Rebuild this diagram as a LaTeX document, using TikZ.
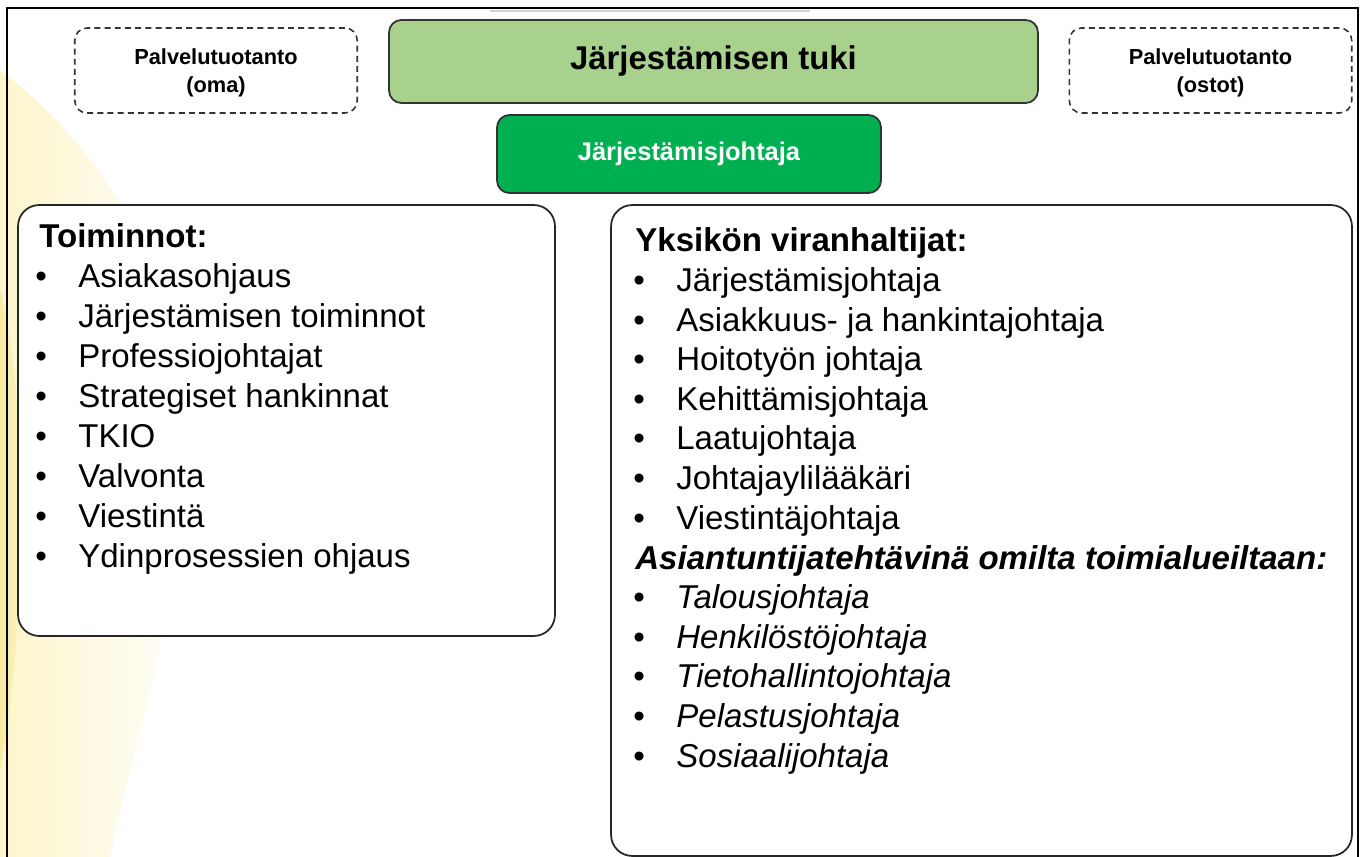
\documentclass[tikz,border=0pt]{standalone}
\usepackage{fontspec}
\setmainfont{Liberation Sans}
\usetikzlibrary{positioning}
\definecolor{tukigreen}{HTML}{A9D18E}
\definecolor{johtogreen}{HTML}{00B050}
\definecolor{edgegray}{HTML}{333333}
\definecolor{glowpale}{HTML}{FDF5CC}
\definecolor{glowdeep}{HTML}{F6EBA0}
\tikzset{
    top box/.style={rectangle, rounded corners=7pt, draw=edgegray, line width=1pt, align=center},
    service box/.style={rectangle, rounded corners=7pt, draw=edgegray, line width=0.9pt, dash pattern=on 3.4pt off 2.4pt, minimum width=5.65cm, minimum height=1.7cm},
    service text/.style={align=center, inner sep=0pt, font=\fontsize{12.4}{16}\selectfont\bfseries},
    list box/.style={rectangle, rounded corners=12pt, draw=black!85, line width=1pt, fill=white},
    list head/.style={anchor=base west, inner sep=0pt, font=\fontsize{18.8}{22}\selectfont\bfseries},
    bullet/.style={anchor=base west, inner sep=0pt, font=\fontsize{18.8}{22}\selectfont},
    list item/.style={anchor=base west, inner sep=0pt, font=\fontsize{18.8}{22}\selectfont}
}
\begin{document}
\begin{tikzpicture}[x=0.02cm, y=-0.02cm]
    \useasboundingbox (0,0) rectangle (1365,857);
    \fill[white] (0,0) rectangle (1365,857);

    \shade[left color=glowpale, right color=white] (0,70) .. controls (130,170) and (205,330) .. (188,480) .. controls (175,620) and (130,760) .. (110,857) -- (0,857) -- cycle;
    \shade[left color=glowdeep, right color=glowpale] (0,290) .. controls (28,400) and (28,620) .. (0,770) -- cycle;

    \draw[line width=1pt] (7,857) -- (7,8) -- (1358,8) -- (1358,857);
    \draw[gray!35, line width=0.8pt] (490,11) -- (810,11);

    \node[service box] (omat) at (216,70.5) {};
    \node[service text] (omattext) at (216,73) {Palvelutuotanto\\(oma)};
    \node[service box] (ostot) at (1210.5,70.5) {};
    \node[service text] (ostottext) at (1210.5,73) {Palvelutuotanto\\(ostot)};
    \node[top box, fill=tukigreen, minimum width=12.98cm, minimum height=1.66cm, font=\fontsize{18.7}{22}\selectfont\bfseries] (tuki) at (713.5,61.5) {Järjestämisen tuki};
    \node[top box, fill=johtogreen, text=white, minimum width=7.68cm, minimum height=1.56cm, font=\fontsize{14.5}{18}\selectfont\bfseries] (johtaja) at (689,154) {Järjestämisjohtaja};

    \node[list box, minimum width=10.74cm, minimum height=8.62cm] (toiminnot) at (286.5,420.5) {};
    \node[list box, minimum width=14.82cm, minimum height=13.02cm] (viranhaltijat) at (981.5,530.5) {};

    \node[list head] (toimhead) at (39,248) {Toiminnot:};
    \foreach \t [count=\i] in {Asiakasohjaus, Järjestämisen toiminnot, Professiojohtajat, Strategiset hankinnat, TKIO, Valvonta, Viestintä, Ydinprosessien ohjaus} {
        \node[bullet] (toimdot\i) at (35,248+39.9*\i) {•};
        \node[list item] (toim\i) at (78,248+39.9*\i) {\t};
    }

    \node[list head] (virhead) at (635,252) {Yksikön viranhaltijat:};
    \foreach \t [count=\i] in {Järjestämisjohtaja, Asiakkuus- ja hankintajohtaja, Hoitotyön johtaja, Kehittämisjohtaja, Laatujohtaja, Johtajaylilääkäri, Viestintäjohtaja} {
        \node[bullet] (virdot\i) at (633,252+39.6*\i) {•};
        \node[list item] (vir\i) at (676,252+39.6*\i) {\t};
    }

    \node[list head, font=\fontsize{18.8}{22}\selectfont\bfseries\itshape] (asiahead) at (635,569) {Asiantuntijatehtävinä omilta toimialueiltaan:};
    \foreach \t [count=\i] in {Talousjohtaja, Henkilöstöjohtaja, Tietohallintojohtaja, Pelastusjohtaja, Sosiaalijohtaja} {
        \node[bullet] (asiadot\i) at (633,569+39.6*\i) {•};
        \node[list item, font=\fontsize{18.8}{22}\selectfont\itshape] (asia\i) at (676,569+39.6*\i) {\t};
    }
\end{tikzpicture}
\end{document}
